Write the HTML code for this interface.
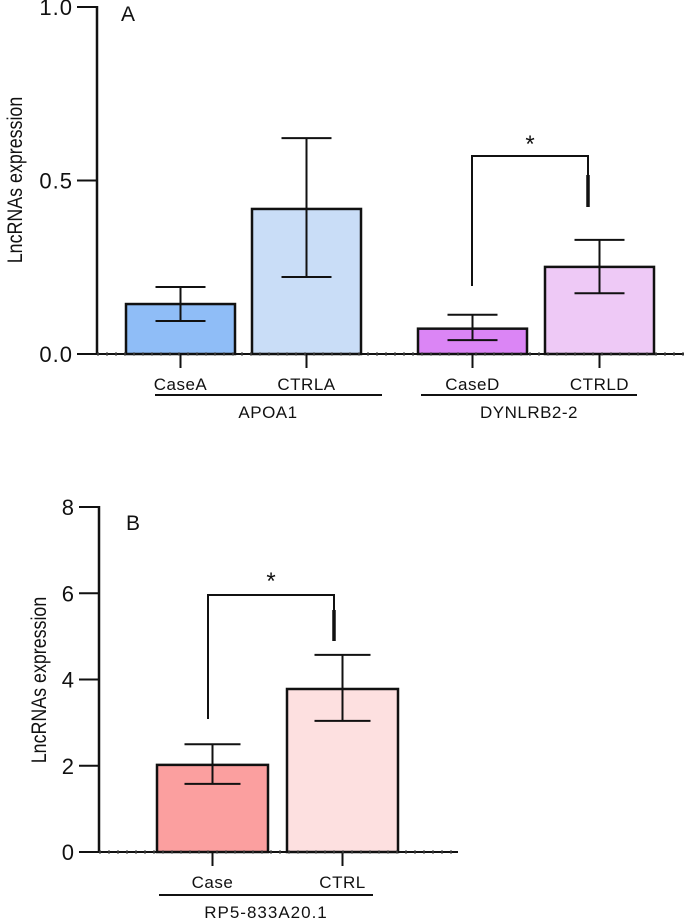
<!DOCTYPE html>
<html><head><meta charset="utf-8"><style>
html,body{margin:0;padding:0;background:#fff;}
svg{display:block;font-family:"Liberation Sans",sans-serif;}
</style></head><body>
<svg id="chart" width="685" height="921" viewBox="0 0 685 921"></svg>
<script>
// Panel A data
const catsA = ["CaseA","CTRLA","CaseD","CTRLD"];
const valsA = [0.144,0.418,0.073,0.251];
const errHiA = [0.193,0.622,0.113,0.329];
const errLoA = [0.095,0.222,0.040,0.175];
const colorsA = ["#8fbdf7","#c9ddf7","#db85f5","#eec9f6"];
const ticksA = [0,0.5,1.0];
const tickLabelsA = ["0.0","0.5","1.0"];
const groupsA = ["APOA1","DYNLRB2-2"];
// Panel B data
const catsB = ["Case","CTRL"];
const valsB = [2.02,3.78];
const errHiB = [2.5,4.57];
const errLoB = [1.58,3.04];
const colorsB = ["#fb9f9f","#fde0e0"];
const ticksB = [0,2,4,6,8];
const tickLabelsB = ["0","2","4","6","8"];
const groupsB = ["RP5-833A20.1"];

const NS="http://www.w3.org/2000/svg";
const svg=document.getElementById('chart');
function mk(tag,attrs,parent){const e=document.createElementNS(NS,tag);for(const k in attrs)e.setAttribute(k,attrs[k]);(parent||svg).appendChild(e);return e;}
function line(x1,y1,x2,y2,w,name,extra){const e=mk('line',Object.assign({x1,y1,x2,y2,stroke:'#111','stroke-width':w||2},extra||{}));


return e;}
function text(x,y,s,size,anchor,name,extra){const e=mk('text',Object.assign({x,y,'font-size':size,'text-anchor':anchor||'middle',fill:'#111'},extra||{}));e.textContent=s;


return e;}

function panel(cfg){
  const y=v=>cfg.y0-(v/cfg.max)*(cfg.y0-cfg.yTop);
  cfg.cats.forEach((c,i)=>{
    const x0=cfg.barX[i], w=cfg.barW;
    const r=mk('rect',{x:x0,y:y(cfg.vals[i]),width:w,height:cfg.y0-y(cfg.vals[i]),fill:cfg.colors[i],stroke:'#111','stroke-width':2.5});
    
    
    const cx=x0+w/2;
    line(cx,y(cfg.hi[i]),cx,y(cfg.lo[i]),2,'error-bar-'+c.toLowerCase());
    line(cx-cfg.cap,y(cfg.hi[i]),cx+cfg.cap,y(cfg.hi[i]),2,'error-cap-high-'+c.toLowerCase());
    line(cx-cfg.cap,y(cfg.lo[i]),cx+cfg.cap,y(cfg.lo[i]),2,'error-cap-low-'+c.toLowerCase());
    line(cx,cfg.y0,cx,cfg.y0+14,2,'x-tick-'+c.toLowerCase());
    text(cx,cfg.y0+36,c,cfg.lblSize,'middle','x-label-'+c.toLowerCase(),{'letter-spacing':'0.5'});
  });
  line(cfg.ax,cfg.yTop-1,cfg.ax,cfg.y0,2.5,'y-axis');
  line(cfg.ax,cfg.y0,cfg.xEnd,cfg.y0,2,'x-axis');
  line(cfg.ax,cfg.y0,cfg.xEnd,cfg.y0,2.5,'baseline-dots',{'stroke-dasharray':'2 7',stroke:'#333','stroke-width':3});
  cfg.ticks.forEach((t,i)=>{
    line(cfg.ax-20,y(t),cfg.ax,y(t),2,'y-tick-'+i);
    text(cfg.ax-24,y(t)+8,cfg.tickLabels[i],22,'end','y-tick-label-'+i,{'letter-spacing':'1'});
  });
  text(0,0,'LncRNAs expression',21,'middle','y-axis-title',{transform:`translate(${cfg.titleX},${cfg.titleY}) rotate(-90) scale(0.85,1)`});
  text(cfg.letter[0],cfg.letter[1],cfg.letterText,21,'start','panel-letter');
}

panel({cats:catsA,vals:valsA,hi:errHiA,lo:errLoA,colors:colorsA,ticks:ticksA,tickLabels:tickLabelsA,
  max:1.0,y0:354,yTop:7,ax:97,xEnd:684,barX:[126,252,418,545],barW:109,cap:25,lblSize:17,
  titleX:22,titleY:180,letter:[121,21],letterText:'A'});
panel({cats:catsB,vals:valsB,hi:errHiB,lo:errLoB,colors:colorsB,ticks:ticksB,tickLabels:tickLabelsB,
  max:8,y0:852,yTop:507,ax:99,xEnd:458,barX:[157,287],barW:111,cap:28,lblSize:17,
  titleX:46,titleY:680,letter:[126,530],letterText:'B'});

line(155,395,382,395,2,'group-line-apoa1');
text(268,418,groupsA[0],17,'middle','group-label-apoa1',{'letter-spacing':'0.5'});
line(421,395,637,395,2,'group-line-dynlrb2');
text(529,418,groupsA[1],17,'middle','group-label-dynlrb2',{'letter-spacing':'0.5'});
line(159,895,373,895,2,'group-line-rp5');
text(266,918,groupsB[0],17,'middle','group-label-rp5',{'letter-spacing':'1'});

const bA=mk('polyline',{points:'472,286 472,156 588,156 588,207',fill:'none',stroke:'#111','stroke-width':2});


line(588,175,588,207,3.5,'bracket-thick-a');
text(530,152,'*',24,'middle','significance-star-a');
const bB=mk('polyline',{points:'208,719 208,595 334,595 334,641',fill:'none',stroke:'#111','stroke-width':2});


line(334,610,334,641,3.5,'bracket-thick-b');
text(271,589,'*',24,'middle','significance-star-b');
</script>
</body></html>
